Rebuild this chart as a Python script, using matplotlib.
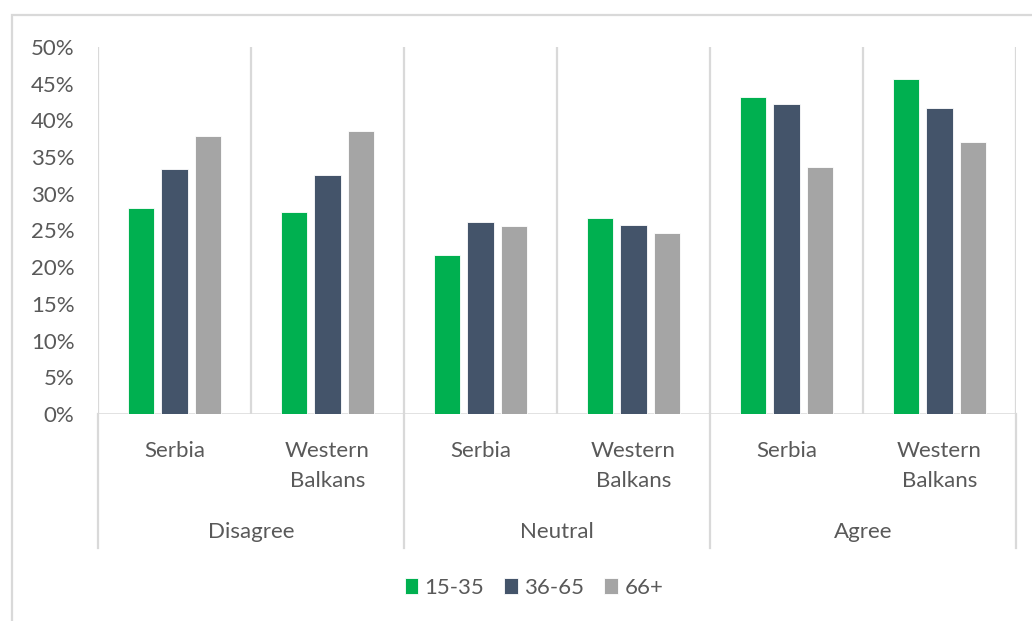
import matplotlib
matplotlib.use("Agg")
import matplotlib.pyplot as plt
from matplotlib.patches import Rectangle
from matplotlib.lines import Line2D
import numpy as np

plt.rcParams['font.family'] = ['Lato', 'DejaVu Sans']

# Data
groups = ["Disagree", "Neutral", "Agree"]
regions = ["Serbia", "Western\nBalkans"]
age_groups = ["15-35", "36-65", "66+"]
vals_15_35 = [28.1, 27.5, 21.6, 26.7, 43.2, 45.7]
vals_36_65 = [33.4, 32.5, 26.2, 25.8, 42.3, 41.7]
vals_66_plus = [37.9, 38.5, 25.6, 24.7, 33.6, 37.0]
colors = ["#00B050", "#44546A", "#A5A5A5"]
y_ticks = [0, 5, 10, 15, 20, 25, 30, 35, 40, 45, 50]

TEXT = "#595959"
GRID = "#D9D9D9"

W, H = 1032, 621
fig = plt.figure(figsize=(W / 100, H / 100), dpi=100)

def fx(px):
    return px / W

def fy(py):
    return 1 - py / H

# Plot area in pixel terms
left, right, top, bottom = 98, 1016, 47, 414
ax = fig.add_axes([fx(left), fy(bottom), fx(right) - fx(left), fy(top) - fy(bottom)])

n = len(vals_15_35)
x = np.arange(n)
width = 0.17
step = 0.222
series = [vals_15_35, vals_36_65, vals_66_plus]
bars = []
for i, (vals, c, lab) in enumerate(zip(series, colors, age_groups)):
    b = ax.bar(x + (i - 1) * step, vals, width, color=c, label=lab, zorder=3,
               edgecolor="white", linewidth=0.6)
    bars.append(b)

ax.set_xlim(-0.5, n - 0.5)
ax.set_ylim(0, 50)
ax.set_yticks(y_ticks)
ax.set_yticklabels([f"{v}%" for v in y_ticks], color=TEXT, fontsize=16)
ax.tick_params(axis="y", length=0, pad=17)
ax.tick_params(axis="x", length=0, labelbottom=False)
for s in ax.spines.values():
    s.set_visible(False)

# Vertical separators inside the plot area
for xv in np.arange(-0.5, n, 1.0):
    ax.axvline(xv, color=GRID, linewidth=1.6, zorder=1)
# Baseline
ax.axhline(0, color=GRID, linewidth=1.8, zorder=2)

# Group separators extending below the axis
ext = (bottom - 548) / (bottom - top)
for xv in [-0.5, 1.5, 3.5, 5.5]:
    ax.add_line(Line2D([xv, xv], [0, ext], transform=ax.get_xaxis_transform(),
                       color=GRID, linewidth=1.6, clip_on=False))

# Category labels (two levels)
tr = ax.get_xaxis_transform()
for i in range(n):
    lab = regions[i % 2]
    ax.text(i, (bottom - 441) / (bottom - top), lab, transform=tr, ha="center", va="top",
            fontsize=16, color=TEXT, linespacing=1.62)
for g, name in enumerate(groups):
    ax.text(2 * g + 0.5, (bottom - 532) / (bottom - top), name, transform=tr,
            ha="center", va="center", fontsize=16, color=TEXT)

# Legend
fig.legend(handles=[b[0] for b in bars], labels=age_groups, loc="center",
           bbox_to_anchor=(fx(534), fy(588)), ncol=3, frameon=False, fontsize=16,
           handlelength=0.6, handleheight=0.75, handletextpad=0.3, columnspacing=0.9,
           labelcolor=TEXT)

# Outer chart border
fig.add_artist(Rectangle((fx(12), fy(H + 5)), fx(W + 10) - fx(12), fy(15) - fy(H + 5),
                         transform=fig.transFigure, fill=False, edgecolor=GRID,
                         linewidth=1.6))

fig.savefig("out.png", dpi=100)
